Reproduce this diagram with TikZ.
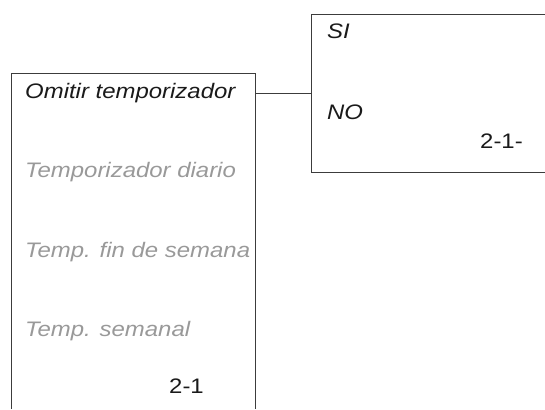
\documentclass[tikz,border=0pt]{standalone}
\usepackage{fontspec}
\newfontfamily\menufont{Liberation Sans}[FakeStretch=1.14]
\usetikzlibrary{positioning}
\definecolor{linegrey}{HTML}{3C3C3C}
\definecolor{inkx}{HTML}{1A1A1A}
\definecolor{greytxt}{HTML}{999999}
\tikzset{
  boxline/.style={draw=linegrey,line width=0.9pt},
  item/.style={anchor=base west,inner sep=0pt,text=inkx,font=\menufont\itshape\fontsize{21}{23}\selectfont},
  off/.style={item,text=greytxt},
  pagenum/.style={anchor=base west,inner sep=0pt,text=inkx,font=\menufont\fontsize{21}{23}\selectfont}
}

\begin{document}
\begin{tikzpicture}[x=1pt,y=-1pt]
\useasboundingbox (0,0) rectangle (545,409);
\coordinate (menuBL) at (11,409); \coordinate (menuTR) at (255,73);
\coordinate (subTR) at (545,14); \coordinate (subBL) at (311,172);
\draw[boxline] (menuBL) |- (menuTR) -- (menuTR |- menuBL);
\draw[boxline] (subTR) -| (subBL) -- (subTR |- subBL);
\coordinate (menuLink) at (255,93); \coordinate (subLink) at (311,93);
\draw[boxline] (menuLink) -- (subLink);
\node[item] (omitir) at (25,99) {Omitir temporizador};
\node[off] (diario) at (25,177) {Temporizador diario};
\node[off] (finde) at (25,257) {Temp. fin de semana};
\node[off] (semanal) at (25,336) {Temp. semanal};
\node[pagenum] (pagA) at (169,393) {2-1};
\node[item] (si) at (327,39) {SI};
\node[item] (no) at (327,119) {NO};
\node[pagenum] (pagB) at (480,148) {2-1-};
\end{tikzpicture}
\end{document}
